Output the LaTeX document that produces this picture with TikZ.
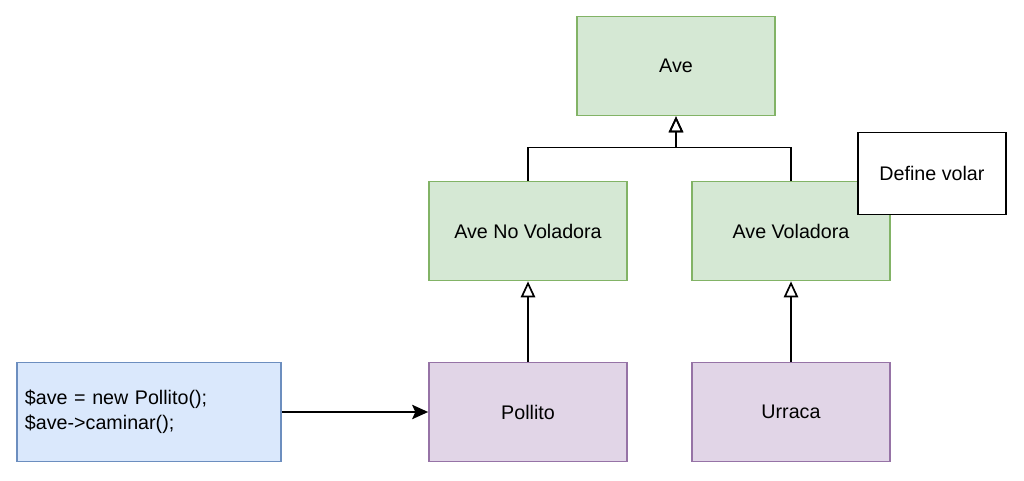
\documentclass[tikz,border=0pt]{standalone}
\usepackage{fontspec}
\setmainfont{Liberation Sans}
\usetikzlibrary{arrows.meta}
\definecolor{verdeF}{HTML}{D5E8D4}
\definecolor{verdeB}{HTML}{82B366}
\definecolor{moradoF}{HTML}{E1D5E7}
\definecolor{moradoB}{HTML}{9673A6}
\definecolor{azulF}{HTML}{DAE8FC}
\definecolor{azulB}{HTML}{6C8EBF}
\tikzset{
  clase/.style={draw=verdeB,fill=verdeF,line width=1.2pt,minimum width=4.95cm,minimum height=2.475cm,font=\fontsize{14}{16}\selectfont},
  hija/.style={clase,draw=moradoB,fill=moradoF},
  herencia/.style={draw,line width=1.2pt,-{Triangle[open,length=0.4cm,width=0.36cm]}},
}
\begin{document}
\begin{tikzpicture}[x=0.025cm,y=-0.025cm]
    \useasboundingbox (0,0) rectangle (1024,480);
    \node[clase] (ave) at (676,66) {Ave};
    \node[clase] (noVol) at (528,231) {Ave No Voladora};
    \node[clase] (vol) at (791,231) {Ave Voladora};
    \node[hija] (pollito) at (528,412) {Pollito};
    \node[hija] (urraca) at (791,412) {Urraca};
    \node[draw=azulB,fill=azulF,line width=1.2pt,minimum width=6.6cm,minimum height=2.475cm,
          text width=6.2cm,inner xsep=0.2cm,align=left,font=\fontsize{14}{18}\selectfont] (codigo) at (149,412)
          {\$ave = new Pollito();\\\$ave->caminar();};
    \node[draw=black,fill=white,line width=1.2pt,minimum width=3.7cm,minimum height=2.05cm,
          font=\fontsize{14}{16}\selectfont] (defVolar) at (932,173.5) {Define volar};
    % herencia
    \draw[herencia] (noVol.north) -- ++(0,-33) -| (ave.south);
    \draw[herencia] (vol.north) -- ++(0,-33) -| (ave.south);
    \draw[herencia] (pollito.north) -- (noVol.south);
    \draw[herencia] (urraca.north) -- (vol.south);
    \draw[line width=1.2pt,-{Stealth[length=0.4cm,width=0.36cm,inset=0.08cm]}] (codigo.east) -- (pollito.west);
\end{tikzpicture}
\end{document}
